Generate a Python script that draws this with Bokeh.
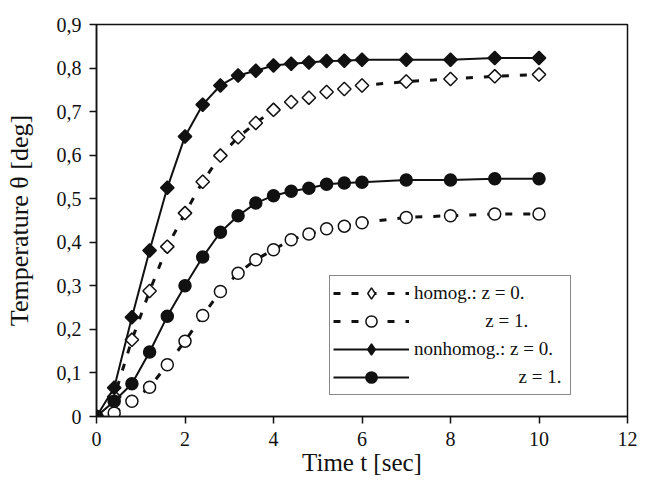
import numpy as np
from bokeh.plotting import figure
from bokeh.models import FixedTicker, Legend, LegendItem
from bokeh.embed import file_html
from bokeh.resources import INLINE

time = [0, 0.4, 0.8, 1.2, 1.6, 2.0, 2.4, 2.8, 3.2, 3.6, 4.0, 4.4, 4.8, 5.2, 5.6, 6.0, 7, 8, 9, 10]
homog_z0 = [0, 0.045, 0.176, 0.288, 0.39, 0.467, 0.539, 0.599, 0.641, 0.674, 0.704, 0.722, 0.732, 0.745, 0.752, 0.760, 0.769, 0.775, 0.781, 0.785]
homog_z1 = [0, 0.008, 0.035, 0.067, 0.119, 0.173, 0.232, 0.287, 0.329, 0.36, 0.383, 0.406, 0.419, 0.431, 0.437, 0.445, 0.457, 0.461, 0.465, 0.465]
nonhomog_z0 = [0, 0.066, 0.228, 0.381, 0.525, 0.643, 0.716, 0.760, 0.783, 0.794, 0.806, 0.810, 0.813, 0.816, 0.817, 0.819, 0.819, 0.819, 0.823, 0.823]
nonhomog_z1 = [0, 0.035, 0.075, 0.148, 0.23, 0.30, 0.366, 0.423, 0.461, 0.49, 0.507, 0.517, 0.524, 0.533, 0.536, 0.538, 0.543, 0.543, 0.546, 0.546]

x_ticks = [0, 2, 4, 6, 8, 10, 12]
y_ticks = [0, 0.1, 0.2, 0.3, 0.4, 0.5, 0.6, 0.7, 0.8, 0.9]
y_tick_labels = ["0", "0,1", "0,2", "0,3", "0,4", "0,5", "0,6", "0,7", "0,8", "0,9"]

NB = "\u00a0"
legend_labels = [
    "homog.: z = 0.",
    NB * 15 + "z = 1.",
    "nonhomog.: z = 0." + NB * 3,
    NB * 22 + "z = 1.",
]

FONT = "Liberation Serif"
INK = "#111111"

p = figure(width=646, height=481, x_range=(0, 12), y_range=(0, 0.9),
           output_backend="svg", toolbar_location=None,
           min_border_left=96, min_border_right=19, min_border_top=24, min_border_bottom=65)
p.background_fill_color = "white"
p.border_fill_color = "white"
p.xgrid.visible = False
p.ygrid.visible = False
p.outline_line_color = INK
p.outline_line_width = 1.5

p.xaxis.ticker = FixedTicker(ticks=x_ticks)
p.yaxis.ticker = FixedTicker(ticks=y_ticks)
p.yaxis.major_label_overrides = dict(zip(y_ticks, y_tick_labels))

for ax in (p.xaxis[0], p.yaxis[0]):
    ax.axis_line_color = INK
    ax.axis_line_width = 1.5
    ax.major_tick_line_color = INK
    ax.major_tick_line_width = 1.5
    ax.major_tick_in = 0
    ax.major_tick_out = 7
    ax.minor_tick_line_color = None
    ax.major_label_text_font = FONT
    ax.major_label_text_font_size = "20px"
    ax.major_label_text_color = INK
    ax.axis_label_text_font = FONT
    ax.axis_label_text_font_style = "normal"
    ax.axis_label_text_color = INK

p.xaxis.axis_label = "Time t [sec]"
p.yaxis.axis_label = "Temperature \u03b8 [deg]"
p.xaxis.axis_label_text_font_size = "25px"
p.yaxis.axis_label_text_font_size = "26px"
p.xaxis.major_label_standoff = 8
p.xaxis.axis_label_standoff = 0
p.yaxis.major_label_standoff = 8
p.yaxis.axis_label_standoff = 20

items = []
series = [
    (homog_z0, "dash", "square", "diamond", "white", 9.5),
    (homog_z1, "dash", "circle", "circle", "white", 12),
    (nonhomog_z0, "solid", "square", "diamond", INK, 9.5),
    (nonhomog_z1, "solid", "circle", "circle", INK, 12),
]
for (vals, style, marker, legend_marker, fill, size), label in zip(series, legend_labels):
    if style == "dash":
        ln = p.line(time, vals, line_color=INK, line_width=3, line_dash="7 11")
    else:
        ln = p.line(time, vals, line_color=INK, line_width=2)
    angle = np.pi / 4 if marker == "square" else 0
    p.scatter(time, vals, marker=marker, size=size, angle=angle,
              fill_color=fill, line_color=INK, line_width=1.5)
    # legend-only glyph (not drawn in the plot: NaN position)
    key = p.scatter([np.nan], [np.nan], marker=legend_marker, size=size,
                    fill_color=fill, line_color=INK, line_width=1.5)
    items.append(LegendItem(label=label, renderers=[ln, key]))

legend = Legend(items=items, location=(233, 21))
legend.glyph_width = 76
legend.glyph_height = 28
legend.label_height = 28
legend.spacing = 0
legend.padding = 3
legend.margin = 0
legend.label_standoff = 5
legend.label_text_font = FONT
legend.label_text_font_size = "19px"
legend.label_text_color = INK
legend.border_line_color = INK
legend.border_line_width = 1.5
legend.background_fill_alpha = 1
p.add_layout(legend, "center")

open("out.html", "w").write(file_html(p, INLINE))
